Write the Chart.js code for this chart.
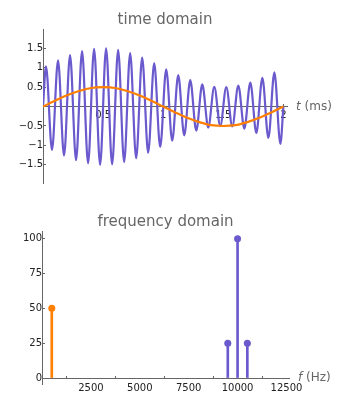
<!DOCTYPE html>
<html>
<head>
<meta charset="utf-8">
<script src="https://cdn.jsdelivr.net/npm/chart.js@4.4.1/dist/chart.umd.min.js"></script>
<style>
  body { margin: 0; background: #fff; }
  canvas { display: block; }
</style>
</head>
<body>
<canvas id="timeChart" width="350" height="200"></canvas>
<canvas id="freqChart" width="350" height="200"></canvas>
<script>
// ---------------- DATA ----------------
// AM signal: read at its crests/troughs (ms), plus the two end points
const amTime = [0, 0.025, 0.075, 0.125, 0.175, 0.225, 0.275, 0.325, 0.375, 0.425, 0.475,
  0.525, 0.575, 0.625, 0.675, 0.725, 0.775, 0.825, 0.875, 0.925, 0.975,
  1.025, 1.075, 1.125, 1.175, 1.225, 1.275, 1.325, 1.375, 1.425, 1.475,
  1.525, 1.575, 1.625, 1.675, 1.725, 1.775, 1.825, 1.875, 1.925, 1.975, 2];
const amValues = [0, 1.04, -1.12, 1.19, -1.26, 1.33, -1.38, 1.43, -1.46, 1.49, -1.5,
  1.5, -1.49, 1.46, -1.43, 1.38, -1.33, 1.26, -1.19, 1.12, -1.04,
  0.96, -0.88, 0.81, -0.74, 0.68, -0.62, 0.57, -0.54, 0.51, -0.5,
  0.5, -0.51, 0.54, -0.57, 0.62, -0.68, 0.74, -0.81, 0.88, -0.96, 0];

// 500 Hz tone
const toneTime = [0, 0.1, 0.2, 0.3, 0.4, 0.5, 0.6, 0.7, 0.8, 0.9, 1,
  1.1, 1.2, 1.3, 1.4, 1.5, 1.6, 1.7, 1.8, 1.9, 2];
const toneValues = [0, 0.15, 0.29, 0.4, 0.48, 0.5, 0.48, 0.4, 0.29, 0.15, 0,
  -0.15, -0.29, -0.4, -0.48, -0.5, -0.48, -0.4, -0.29, -0.15, 0];

const timeTicks = [0.5, 1, 1.5, 2];
const ampTicks = [-1.5, -1, -0.5, 0.5, 1, 1.5];

// spectrum
const toneFreqs = [500];
const toneAmps = [50];
const amFreqs = [9500, 10000, 10500];
const amAmps = [25, 100, 25];

const freqTicks = [2500, 5000, 7500, 10000, 12500];
const magTicks = [0, 25, 50, 75, 100];

// ---------------- STYLE ----------------
const purple = "#6a5acd";
const orange = "#ff7f00";
const axisColor = "#666666";
const labelColor = "#222222";
const titleColor = "#666666";

Chart.defaults.font.family = "'DejaVu Sans', sans-serif";

const toPoints = (xs, ys) => xs.map((x, i) => ({ x: x, y: ys[i] }));

// axis caption at the right end of the x axis: italic variable + unit
const axisCaption = (variable, unit) => ({
  id: "axisCaption",
  afterDraw(chart) {
    const c = chart.ctx;
    const x = chart.scales.x.right + 9;
    const y = chart.scales.y.getPixelForValue(0);
    c.save();
    c.fillStyle = titleColor;
    c.textBaseline = "middle";
    c.font = "italic 12px 'DejaVu Sans'";
    c.fillText(variable, x, y);
    const w = c.measureText(variable + " ").width;
    c.font = "12px 'DejaVu Sans'";
    c.fillText("(" + unit + ")", x + w, y);
    c.restore();
  },
});

const axisStyle = (tickValues, pad) => ({
  afterBuildTicks: (scale) => {
    scale.ticks = tickValues.map((v) => ({ value: v }));
  },
  grid: { drawOnChartArea: false, tickLength: -3, color: axisColor, tickColor: axisColor },
  border: { color: axisColor, width: 1 },
  ticks: {
    color: labelColor,
    font: { size: 10 },
    padding: pad,
    maxRotation: 0,
    autoSkip: false,
    callback: (v) => String(v).replace("-", "\u2212"),
  },
});

const titleStyle = (text, top) => ({
  display: true,
  text: text,
  fullSize: false,
  color: titleColor,
  font: { size: 15, weight: "normal" },
  padding: { top: top, bottom: 0 },
});

/* ------------------------------- TIME DOMAIN ------------------------------- */
new Chart(document.getElementById("timeChart"), {
  type: "scatter",
  data: {
    datasets: [
      {
        data: toPoints(toneTime, toneValues),
        showLine: true,
        borderColor: orange,
        borderWidth: 2.2,
        pointRadius: 0,
        cubicInterpolationMode: "monotone",
      },
      {
        data: toPoints(amTime, amValues),
        showLine: true,
        borderColor: purple,
        borderWidth: 2.2,
        pointRadius: 0,
        cubicInterpolationMode: "monotone",
      },
    ],
  },
  options: {
    responsive: false,
    animation: false,
    layout: { padding: { left: 43, right: 63, top: 0, bottom: 17 } },
    plugins: {
      legend: { display: false },
      tooltip: { enabled: false },
      title: titleStyle("time domain", 11),
    },
    scales: {
      x: Object.assign({ type: "linear", min: 0, max: 2.03, position: { y: 0 } }, axisStyle(timeTicks, 6)),
      y: Object.assign({ type: "linear", min: -1.97, max: 2, position: { x: 0 } }, axisStyle(ampTicks, 5)),
    },
  },
  plugins: [axisCaption("t", "ms")],
});

/* ------------------------------- FREQUENCY DOMAIN ------------------------------- */
new Chart(document.getElementById("freqChart"), {
  type: "bar",
  data: {
    datasets: [
      { data: toPoints(toneFreqs, toneAmps), backgroundColor: orange, barThickness: 2, grouped: false },
      { data: toPoints(amFreqs, amAmps), backgroundColor: purple, barThickness: 2, grouped: false },
      {
        type: "scatter",
        data: toPoints(toneFreqs, toneAmps),
        pointRadius: 3.5,
        pointBackgroundColor: orange,
        pointBorderWidth: 0,
      },
      {
        type: "scatter",
        data: toPoints(amFreqs, amAmps),
        pointRadius: 3.5,
        pointBackgroundColor: purple,
        pointBorderWidth: 0,
      },
    ],
  },
  options: {
    responsive: false,
    animation: false,
    layout: { padding: { left: 42, right: 61, top: 0, bottom: 16 } },
    plugins: {
      legend: { display: false },
      tooltip: { enabled: false },
      title: titleStyle("frequency domain", 13),
    },
    scales: {
      x: Object.assign({ type: "linear", min: 0, max: 12630, offset: false, position: { y: 0 } }, axisStyle(freqTicks, 7)),
      y: Object.assign({ type: "linear", min: -4.3, max: 105.5, position: { x: 0 } }, axisStyle(magTicks, 9)),
    },
  },
  plugins: [axisCaption("f", "Hz")],
});
</script>
</body>
</html>
